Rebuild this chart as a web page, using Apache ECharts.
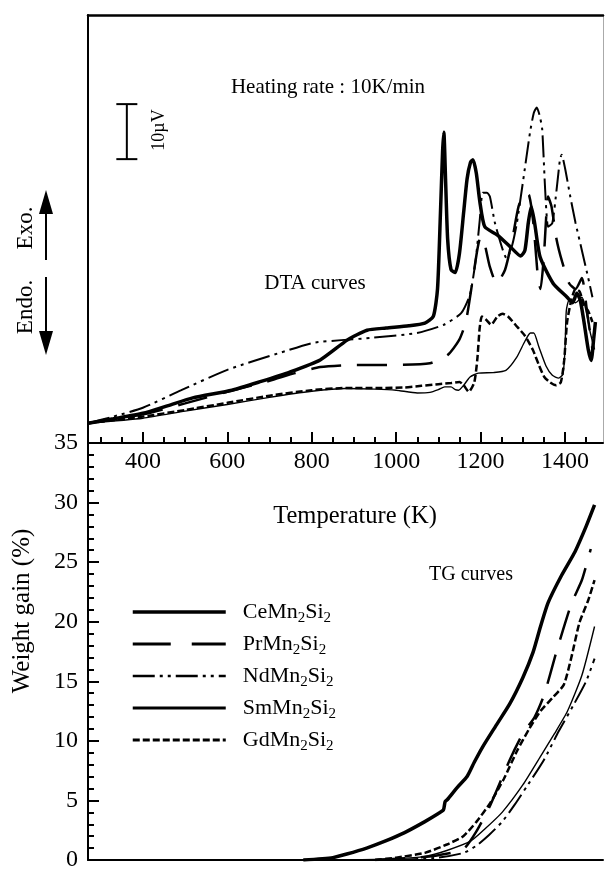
<!DOCTYPE html>
<html>
<head>
<meta charset="utf-8">
<script src="https://cdn.jsdelivr.net/npm/echarts@6/dist/echarts.min.js"></script>
<style>
html,body{margin:0;padding:0;background:#fff;}
#chart{width:605px;height:872px;}
</style>
</head>
<body>
<div id="chart"></div>
<script>
// ---------- DATA ----------
const compounds = ['Ce', 'Pr', 'Nd', 'Sm', 'Gd'];
const seriesNames = compounds.map(c => c + 'Mn2Si2');

const xMin = 270, xMax = 1490;
const xMajorTicks = [400, 600, 800, 1000, 1200, 1400];
const xMinorTicks = [300, 350, 450, 500, 550, 650, 700, 750, 850, 900, 950, 1050, 1100, 1150, 1250, 1300, 1350, 1450];
const tgTicks = [0, 5, 10, 15, 20, 25, 30, 35];

// DTA curves: [T (K), signal (µV, arbitrary offset)]
const dtaCe = [[270,3.6],[330,4.4],[400,5.4],[460,6.8],[518,8.2],[611,9.6],[680,11.2],[748,12.9],[820,15.1],[884,18.7],[931,20.5],[976,20.9],[1030,21.3],[1068,21.8],[1088,23],[1098,28],[1105,42],[1110,53],[1113,56.5],[1117,48],[1122,37],[1130,31.5],[1140,31],[1150,34.5],[1160,42],[1168,48],[1176,51],[1182,51.5],[1190,49],[1198,44],[1210,39.3],[1240,37.8],[1270,35.7],[1295,34],[1305,35],[1313,40],[1320,43],[1328,40],[1341,33.8],[1372,29],[1405,26.5],[1418,25.5],[1428,27.2],[1436,26],[1445,22],[1455,17],[1462,15],[1468,19],[1472,22]];
const dtaPr = [[270,3.6],[400,5.2],[500,7.2],[600,9.3],[700,11.3],[760,12.7],[820,13.8],[900,14.2],[1000,14.2],[1080,14.5],[1122,16],[1149,18.7],[1165,22],[1180,29],[1192,35],[1200,37.5],[1210,36],[1222,32],[1238,29],[1258,31.5],[1275,37],[1290,43],[1305,45.5],[1315,45],[1325,40],[1336,30],[1342,28],[1350,34],[1360,44.8],[1368,43],[1380,37],[1393,33],[1410,29],[1425,28],[1440,30],[1452,24],[1465,17]];
const dtaNd = [[270,3.6],[330,4.8],[400,6.4],[491,9.6],[600,13.3],[729,16.5],[803,18.2],[870,18.7],[940,19.1],[1049,20],[1113,21.5],[1154,23.6],[1175,27],[1188,33],[1198,40.5],[1205,45.5],[1215,45.5],[1222,44.8],[1234,40],[1253,35],[1262,33.5],[1275,36],[1286,40],[1301,47.8],[1317,56.4],[1326,60],[1333,61],[1340,59.5],[1346,57],[1353,46],[1360,39.3],[1370,40],[1380,46],[1388,51.5],[1392,52.4],[1400,50],[1412,45],[1425,40],[1440,35],[1455,30],[1465,26.5]];
const dtaSm = [[270,3.6],[400,4.5],[500,5.8],[600,7.0],[700,8.3],[800,9.4],[880,9.9],[950,9.8],[1000,9.6],[1050,9.1],[1080,9.2],[1100,9.7],[1115,10.2],[1130,10.2],[1140,9.7],[1148,9.6],[1160,10.5],[1175,12],[1195,12.7],[1230,12.8],[1260,13.2],[1285,15.5],[1305,18.5],[1318,20],[1326,20],[1338,17.5],[1355,14],[1370,12.3],[1385,11.8],[1395,12.5],[1400,17],[1403,24],[1410,26],[1425,25.5],[1440,26.5],[1450,24],[1460,20],[1470,17]];
const dtaGd = [[270,3.6],[400,4.8],[500,6],[600,7.3],[700,8.6],[800,9.6],[880,10],[960,10],[1020,10.1],[1060,10.4],[1100,10.7],[1130,10.9],[1150,11.1],[1160,10.5],[1172,9.3],[1185,11],[1192,15],[1198,21],[1203,23],[1212,22.5],[1225,21.5],[1240,23],[1252,23.5],[1265,23],[1287,21.1],[1305,19.5],[1324,16.9],[1338,14.2],[1351,12],[1365,11],[1379,10.5],[1390,11],[1398,15],[1405,22],[1415,26],[1425,28],[1435,27.5],[1445,25],[1455,24],[1465,22]];

// TG curves: [T (K), weight gain (%)]
const tgCe = [[780,0],[850,0.2],[883,0.5],[930,1.0],[975,1.6],[1020,2.3],[1067,3.2],[1100,3.9],[1112,4.2],[1116,4.9],[1122,5.1],[1145,6.1],[1168,7.0],[1185,8.2],[1205,9.5],[1235,11.2],[1269,13.1],[1300,15.3],[1324,17.4],[1342,19.6],[1360,21.6],[1392,23.9],[1424,25.9],[1450,28],[1470,29.8]];
const tgPr = [[950,0],[1050,0.2],[1100,0.4],[1159,0.9],[1190,2.4],[1223,4.6],[1269,8.4],[1300,10.6],[1328,12.0],[1351,13.9],[1379,17.4],[1415,21.5],[1440,23.5],[1461,26.1]];
const tgNd = [[1000,0],[1100,0.2],[1160,0.6],[1190,1.2],[1220,2.1],[1251,3.2],[1280,4.6],[1310,6.2],[1350,8.4],[1385,10.8],[1420,13],[1450,15],[1470,16.9]];
const tgSm = [[900,0],[1000,0.1],[1068,0.3],[1120,0.8],[1177,1.6],[1210,2.6],[1251,4.0],[1300,6.3],[1342,8.7],[1375,10.6],[1406,12.5],[1440,15.5],[1470,19.6]];
const tgGd = [[950,0],[1000,0.2],[1068,0.6],[1120,1.3],[1159,2.0],[1190,3.2],[1223,4.8],[1255,6.8],[1287,9.2],[1315,11.0],[1342,12.5],[1370,13.6],[1397,14.7],[1415,17.0],[1434,19.9],[1455,21.8],[1470,23.5]];

const dtaData = [dtaCe, dtaPr, dtaNd, dtaSm, dtaGd];
const tgData = [tgCe, tgPr, tgNd, tgSm, tgGd];

// 10 µV scale bar: [T, low, high]
const scaleBar = [[362, 51.6, 61.6]];

// ---------- STYLES ----------
const FONT = 'Liberation Serif';
const lineStyles = [
  { width: 3.5, type: 'solid' },
  { width: 2.5, type: [30, 16] },
  { width: 2, type: [22, 5, 3, 5, 3, 5] },
  { width: 1.4, type: 'solid' },
  { width: 2.5, type: [7, 3] }
];
const legendLineStyles = [
  { width: 3.5, type: 'solid', color: '#000' },
  { width: 3, type: [38, 21], color: '#000' },
  { width: 2.5, type: [22, 5, 3, 5, 3, 5], color: '#000' },
  { width: 3, type: 'solid', color: '#000' },
  { width: 3, type: [7, 3], color: '#000' }
];

const chart = echarts.init(document.getElementById('chart'), null, { renderer: 'canvas' });

const series = [];
seriesNames.forEach((name, i) => {
  series.push({
    name: name, type: 'line', xAxisIndex: 0, yAxisIndex: 0,
    data: dtaData[i], symbol: 'none', smooth: 0.2, color: '#000',
    lineStyle: Object.assign({ color: '#000', cap: 'butt' }, lineStyles[i]),
    z: i === 0 ? 5 : 3
  });
  series.push({
    name: name, type: 'line', xAxisIndex: 3, yAxisIndex: 2,
    data: tgData[i], symbol: 'none', smooth: 0.2, color: '#000',
    lineStyle: Object.assign({ color: '#000', cap: 'butt' }, lineStyles[i]),
    z: i === 0 ? 5 : 3
  });
});
series.push({
  type: 'custom', xAxisIndex: 0, yAxisIndex: 0, data: scaleBar, silent: true,
  renderItem: function (params, api) {
    const p1 = api.coord([api.value(0), api.value(1)]);
    const p2 = api.coord([api.value(0), api.value(2)]);
    const st = { stroke: '#000', lineWidth: 2 };
    return {
      type: 'group', children: [
        { type: 'line', shape: { x1: p1[0], y1: p1[1], x2: p2[0], y2: p2[1] }, style: st },
        { type: 'line', shape: { x1: p1[0] - 10.5, y1: p1[1], x2: p1[0] + 10.5, y2: p1[1] }, style: st },
        { type: 'line', shape: { x1: p2[0] - 10.5, y1: p2[1], x2: p2[0] + 10.5, y2: p2[1] }, style: st }
      ]
    };
  }
});

const txt = (text, x, y, size, rot) => ({
  type: 'text', x: x, y: y, rotation: rot || 0,
  style: { text: text, font: size + 'px "' + FONT + '"', fill: '#000', align: 'center', verticalAlign: 'middle' }
});

const option = {
  backgroundColor: '#fff',
  animation: false,
  grid: [
    { left: 88, right: 2, top: 15, height: 428 },
    { left: 88, right: 2, top: 443, height: 426 }
  ],
  xAxis: [
    { gridIndex: 0, type: 'value', min: xMin, max: xMax, position: 'bottom',
      axisLine: { show: true, lineStyle: { color: '#000', width: 2 } },
      axisTick: { show: true, inside: true, length: 11, lineStyle: { color: '#000', width: 2 }, customValues: xMajorTicks },
      axisLabel: { show: true, margin: 7, fontFamily: FONT, fontSize: 24, color: '#000', customValues: xMajorTicks,
        formatter: v => String(v) },
      splitLine: { show: false } },
    { gridIndex: 0, type: 'value', min: xMin, max: xMax, position: 'bottom',
      axisLine: { show: false },
      axisTick: { show: true, inside: true, length: 6, lineStyle: { color: '#000', width: 2 }, customValues: xMinorTicks },
      axisLabel: { show: false }, splitLine: { show: false } },
    { gridIndex: 0, type: 'value', min: xMin, max: xMax, position: 'top',
      axisLine: { show: true, lineStyle: { color: '#000', width: 2.5 } },
      axisTick: { show: false }, axisLabel: { show: false }, splitLine: { show: false } },
    { gridIndex: 1, type: 'value', min: xMin, max: xMax, position: 'bottom',
      axisLine: { show: true, lineStyle: { color: '#000', width: 2 } },
      axisTick: { show: false }, axisLabel: { show: false }, splitLine: { show: false } }
  ],
  yAxis: [
    { gridIndex: 0, type: 'value', min: 0, max: 77.8, position: 'left',
      axisLine: { show: true, lineStyle: { color: '#000', width: 2 } },
      axisTick: { show: false }, axisLabel: { show: false }, splitLine: { show: false } },
    { gridIndex: 0, type: 'value', min: 0, max: 77.8, position: 'right',
      axisLine: { show: true, lineStyle: { color: '#aaa', width: 1 } },
      axisTick: { show: false }, axisLabel: { show: false }, splitLine: { show: false } },
    { gridIndex: 1, type: 'value', min: 0, max: 35, interval: 5, position: 'left',
      axisLine: { show: true, lineStyle: { color: '#000', width: 2 } },
      axisTick: { show: true, inside: true, length: 11, lineStyle: { color: '#000', width: 2 } },
      minorTick: { show: true, splitNumber: 5, length: 6, lineStyle: { color: '#000', width: 2 } },
      axisLabel: { show: true, margin: 10, fontFamily: FONT, fontSize: 24, color: '#000', customValues: tgTicks },
      splitLine: { show: false } }
  ],
  legend: {
    data: seriesNames.map((n, i) => ({
      name: n, lineStyle: legendLineStyles[i],
      itemStyle: { color: 'rgba(0,0,0,0)', borderWidth: 0, opacity: 0 }
    })),
    orient: 'vertical', left: 126, top: 596, padding: 5,
    itemWidth: 93, itemHeight: 14, itemGap: 4, selectedMode: false,
    formatter: function (name) {
      const el = name.replace('Mn2Si2', '');
      return '{n|' + el + 'Mn}{s|2}{n|Si}{s|2}';
    },
    textStyle: {
      padding: [0, 0, 0, 12],
      rich: {
        n: { fontFamily: FONT, fontSize: 22, lineHeight: 28, color: '#000' },
        s: { fontFamily: FONT, fontSize: 15, lineHeight: 12, verticalAlign: 'bottom', color: '#000' }
      }
    }
  },
  graphic: [
    txt('Heating rate : 10K/min', 328, 87, 21),
    txt('DTA curves', 315, 283, 21),
    txt('Temperature (K)', 355, 517, 24.5),
    txt('TG curves', 471, 575, 20),
    txt('Weight gain (%)', 22, 611, 25, Math.PI / 2),
    txt('Exo.', 26, 228, 23, Math.PI / 2),
    txt('Endo.', 26, 307, 23, Math.PI / 2),
    txt('10\u00b5V', 159, 130, 18, Math.PI / 2),
    { type: 'line', shape: { x1: 46, y1: 260, x2: 46, y2: 210 }, style: { stroke: '#000', lineWidth: 2 } },
    { type: 'polygon', shape: { points: [[46, 190], [39, 214], [53, 214]] }, style: { fill: '#000' } },
    { type: 'line', shape: { x1: 46, y1: 277, x2: 46, y2: 334 }, style: { stroke: '#000', lineWidth: 2 } },
    { type: 'polygon', shape: { points: [[46, 355], [39, 331], [53, 331]] }, style: { fill: '#000' } }
  ],
  series: series
};
option.legend.itemGap = 7;
chart.setOption(option);
</script>
</body>
</html>
